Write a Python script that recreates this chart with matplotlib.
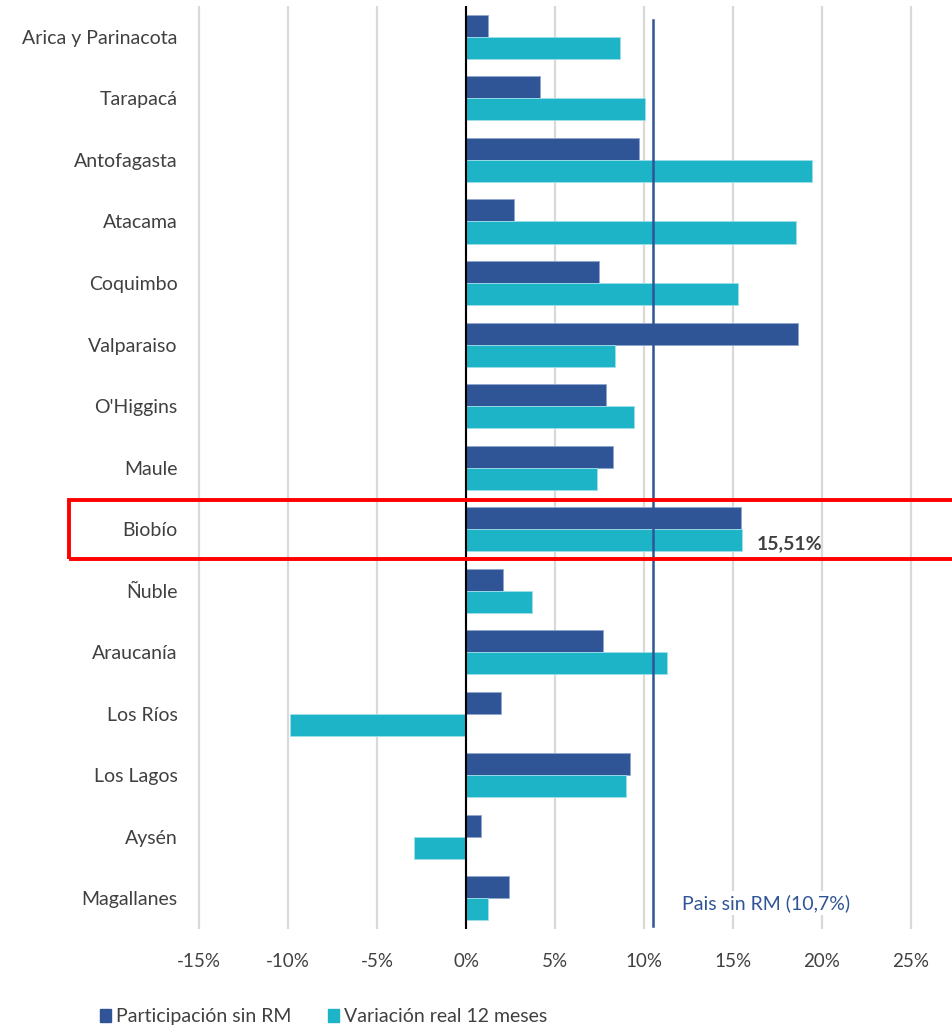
import matplotlib
matplotlib.use("Agg")
import matplotlib.pyplot as plt
from matplotlib.patches import Rectangle, Patch

plt.rcParams['font.family'] = ['Lato', 'DejaVu Sans']

# datos
regiones = ["Arica y Parinacota", "Tarapacá", "Antofagasta", "Atacama", "Coquimbo",
            "Valparaiso", "O'Higgins", "Maule", "Biobío", "Ñuble", "Araucanía",
            "Los Ríos", "Los Lagos", "Aysén", "Magallanes"]
participacion = [1.22, 4.17, 9.74, 2.67, 7.49, 18.65, 7.86, 8.26, 15.43, 2.10, 7.70,
                 1.97, 9.23, 0.86, 2.40]
variacion = [8.63, 10.03, 19.42, 18.54, 15.30, 8.39, 9.44, 7.34, 15.51, 3.69, 11.29,
             -9.91, 9.01, -2.90, 1.24]
ticks_x = [-15, -10, -5, 0, 5, 10, 15, 20, 25]
pais_linea = 10.5
pais_texto = "Pais sin RM (10,7%)"
destacado = "Biobío"

c_oscuro = "#2F5597"
c_cian = "#1EB4C8"
c_texto = "#404040"

fig = plt.figure(figsize=(9.53, 10.28), dpi=100)
ax = fig.add_axes([0.2051, 0.0963, 0.7546, 0.8977])

n = len(regiones)
y = list(range(n))
h = 0.358
ax.barh([i - h / 2 for i in y], participacion, height=h, color=c_oscuro,
        edgecolor="#8FA6D0", linewidth=0.6, label="Participación sin RM", zorder=3)
ax.barh([i + h / 2 for i in y], variacion, height=h, color=c_cian,
        edgecolor="#9FE0EA", linewidth=0.6, label="Variación real 12 meses", zorder=3)

ax.set_ylim(n - 0.5, -0.5)
ax.set_xlim(-15.2, 25.2)
ax.set_yticks(y)
ax.set_yticklabels(regiones, fontsize=14, color=c_texto)
ax.set_xticks(ticks_x)
ax.set_xticklabels([f"{t}%" for t in ticks_x], fontsize=13.5, color=c_texto)
ax.tick_params(length=0)
ax.tick_params(axis="x", pad=17)
ax.tick_params(axis="y", pad=13)
for s in ax.spines.values():
    s.set_visible(False)
ax.grid(axis="x", color="#D9D9D9", linewidth=1.6, zorder=0)
ax.axvline(0, color="black", linewidth=1.5, zorder=4)

# linea pais
ax.axvline(pais_linea, ymin=0.003, ymax=0.985, color=c_oscuro, linewidth=1.8, zorder=5)
ax.text(pais_linea + 1.65, n - 1 + 0.08, pais_texto, color=c_oscuro, fontsize=14,
        va="center", ha="left", zorder=6,
        bbox=dict(facecolor="white", edgecolor="none", pad=2))

# Biobío
ib = regiones.index(destacado)
ax.text(variacion[ib] + 0.8, ib + h / 2 + 0.06, f"{variacion[ib]:.2f}%".replace(".", ","),
        fontsize=14, fontweight="bold", color=c_texto, va="center", ha="left", zorder=6)
fig.patches.append(Rectangle((69 / 953, 1 - 559 / 1028), 0.95, 59 / 1028,
                             transform=fig.transFigure, fill=False, edgecolor="#FF0000",
                             linewidth=2.8, zorder=10))

handles = [Patch(color=c_oscuro, label="Participación sin RM"),
           Patch(color=c_cian, label="Variación real 12 meses")]
fig.legend(handles=handles, loc="center left", bbox_to_anchor=(0.0865, 0.011), ncol=2,
           frameon=False, fontsize=14, handlelength=0.55, handleheight=0.6,
           handletextpad=0.3, columnspacing=1.85, labelcolor=c_texto)

fig.savefig("out.png", dpi=100)
